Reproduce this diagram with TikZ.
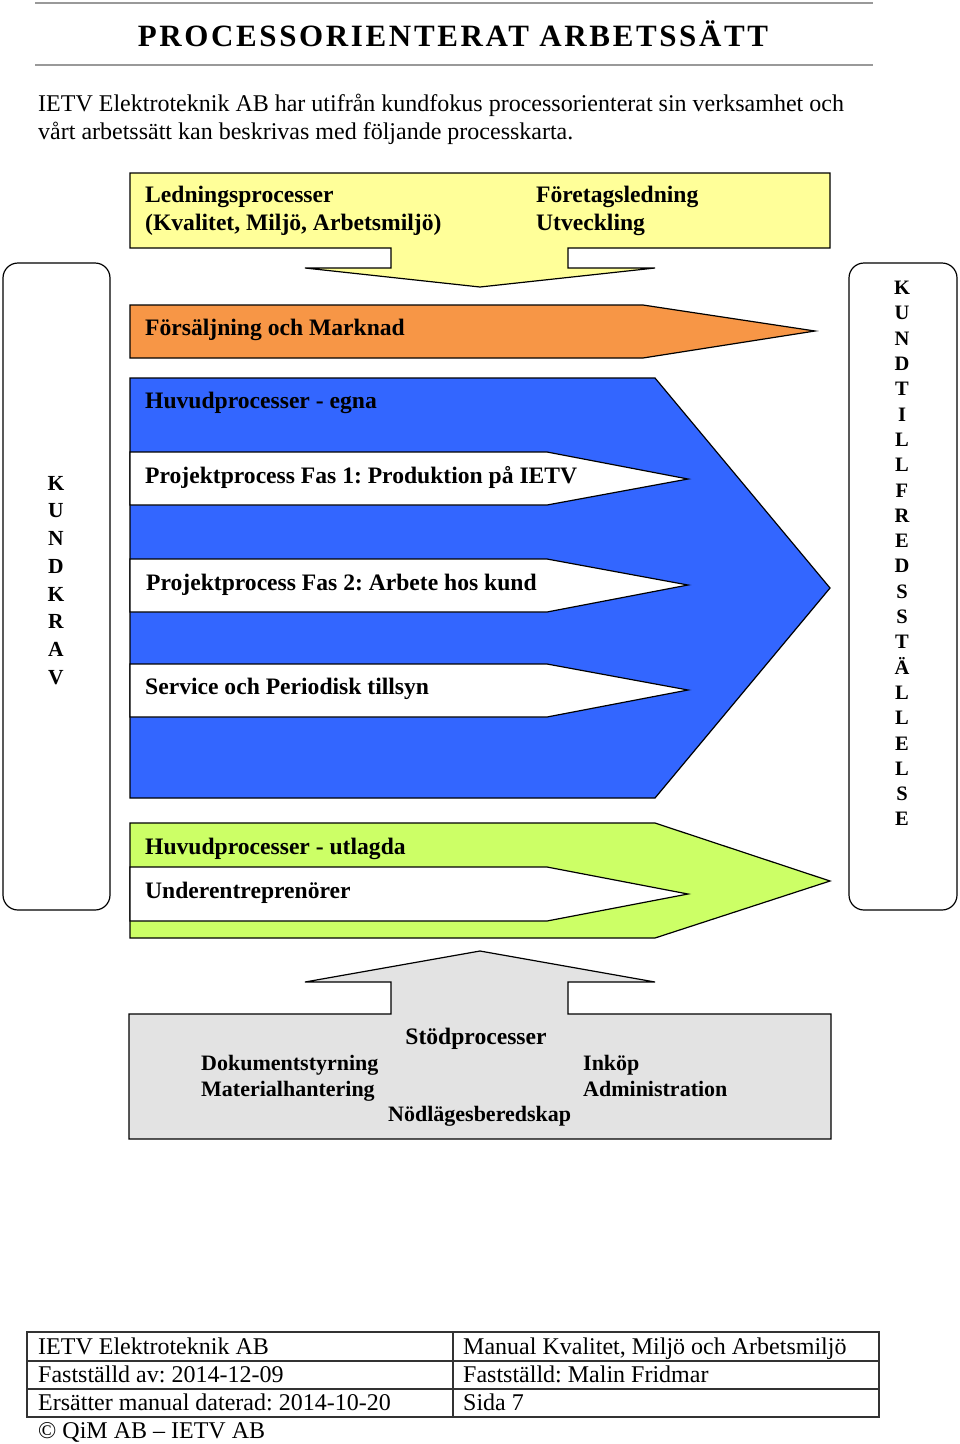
\documentclass[tikz,border=0pt]{standalone}
\usepackage{fontspec}
\setmainfont{Liberation Serif}
\newfontfamily\titlefont[LetterSpace=8.5]{Liberation Serif}
\frenchspacing
\definecolor{ylw}{HTML}{FFFF99}
\definecolor{org}{HTML}{F79646}
\definecolor{blu}{HTML}{3366FF}
\definecolor{grn}{HTML}{CCFF66}
\definecolor{gry}{HTML}{E3E3E3}
\definecolor{rule}{HTML}{999999}
\begin{document}
\begin{tikzpicture}[x=1pt,y=-1pt,
  shp/.style={draw=black,line width=1.2pt,line join=miter},
  lbl/.style={anchor=base west,inner sep=0pt,font=\bfseries\fontsize{23.6}{26}\selectfont},
  slbl/.style={anchor=base west,inner sep=0pt,font=\bfseries\fontsize{22}{26}\selectfont},
  txt/.style={anchor=base west,inner sep=0pt,font=\fontsize{24}{26}\selectfont},
  stackL/.style={inner sep=0pt,align=center,font=\bfseries\fontsize{21.5}{27.7}\selectfont},
  stackR/.style={inner sep=0pt,align=center,font=\bfseries\fontsize{20.5}{25.3}\selectfont}]
\useasboundingbox (0,0) rectangle (960,1444);
% header rules
\draw[rule,line width=2pt] (35,3) -- (873,3);
\draw[rule,line width=2pt] (35,65) -- (873,65);
\node[anchor=base,inner sep=0pt,font=\titlefont\bfseries\fontsize{31}{34}\selectfont] (title) at (453,46) {PROCESSORIENTERAT ARBETSSÄTT};
\node[txt] (intro1) at (38,111) {IETV Elektroteknik AB har utifrån kundfokus processorienterat sin verksamhet och};
\node[txt] (intro2) at (38,139) {vårt arbetssätt kan beskrivas med följande processkarta.};
% side boxes
\draw[shp,rounded corners=15pt] (3,263) rectangle (110,910);
\draw[shp,rounded corners=15pt] (849,263) rectangle (957,910);
\node[stackL,anchor=north] (kundkrav) at (56,476) {K\\U\\N\\D\\K\\R\\A\\V};
\node[stackR,anchor=north] (kundtill) at (902,281) {K\\U\\N\\D\\T\\I\\L\\L\\F\\R\\E\\D\\S\\S\\T\\Ä\\L\\L\\E\\L\\S\\E};
% top yellow
\draw[shp,fill=ylw] (130,173) -- (830,173) -- (830,248) -- (568,248) -- (568,268) -- (655,268) -- (480,287) -- (305,268) -- (391,268) -- (391,248) -- (130,248) -- cycle;
\node[lbl] (led1) at (145,202) {Ledningsprocesser};
\node[lbl] (led2) at (145,230) {(Kvalitet, Miljö, Arbetsmiljö)};
\node[lbl] (fl1) at (536,202) {Företagsledning};
\node[lbl] (fl2) at (536,230) {Utveckling};
% orange
\draw[shp,fill=org] (130,305) -- (643,305) -- (815,331) -- (643,358) -- (130,358) -- cycle;
\node[lbl] (fm) at (145,335) {Försäljning och Marknad};
% blue
\draw[shp,fill=blu] (130,378) -- (655,378) -- (830,588) -- (655,798) -- (130,798) -- cycle;
\node[lbl] (he) at (145,408) {Huvudprocesser - egna};
\draw[shp,fill=white] (130,452) -- (547,452) -- (688,479) -- (547,505) -- (130,505) -- cycle;
\node[lbl] (p1) at (145,483) {Projektprocess Fas 1: Produktion på IETV};
\draw[shp,fill=white] (130,559) -- (547,559) -- (688,585) -- (547,612) -- (130,612) -- cycle;
\node[lbl] (p2) at (146,590) {Projektprocess Fas 2: Arbete hos kund};
\draw[shp,fill=white] (130,664) -- (547,664) -- (688,690) -- (547,717) -- (130,717) -- cycle;
\node[lbl] (sp) at (145,694) {Service och Periodisk tillsyn};
% green
\draw[shp,fill=grn] (130,823) -- (655,823) -- (830,881) -- (655,938) -- (130,938) -- cycle;
\node[lbl] (hu) at (145,854) {Huvudprocesser - utlagda};
\draw[shp,fill=white] (130,867) -- (547,867) -- (688,894) -- (547,921) -- (130,921) -- cycle;
\node[lbl] (ue) at (145,898) {Underentreprenörer};
% gray support
\draw[shp,fill=gry] (129,1014) -- (391,1014) -- (391,982) -- (305,982) -- (480,951) -- (655,982) -- (568,982) -- (568,1014) -- (831,1014) -- (831,1139) -- (129,1139) -- cycle;
\node[lbl,anchor=base] (stod) at (476,1044) {Stödprocesser};
\node[slbl] (dok) at (201,1070) {Dokumentstyrning};
\node[slbl] (mat) at (201,1096) {Materialhantering};
\node[slbl] (ink) at (583,1070) {Inköp};
\node[slbl] (adm) at (583,1096) {Administration};
\node[slbl] (nod) at (388,1121) {Nödlägesberedskap};
% footer table
\draw[line width=1.5pt,draw=black!80] (27,1332) rectangle (879,1417);
\draw[line width=1.2pt,draw=black!80] (27,1361) -- (879,1361) (27,1389) -- (879,1389) (453,1332) -- (453,1417);
\node[txt] (f11) at (38,1354) {IETV Elektroteknik AB};
\node[txt] (f12) at (463,1354) {Manual Kvalitet, Miljö och Arbetsmiljö};
\node[txt] (f21) at (38,1382) {Fastställd av: 2014-12-09};
\node[txt] (f22) at (463,1382) {Fastställd: Malin Fridmar};
\node[txt] (f31) at (38,1410) {Ersätter manual daterad: 2014-10-20};
\node[txt] (f32) at (463,1410) {Sida 7};
\node[txt] (copy) at (38,1438) {© QiM AB – IETV AB};
\end{tikzpicture}
\end{document}
